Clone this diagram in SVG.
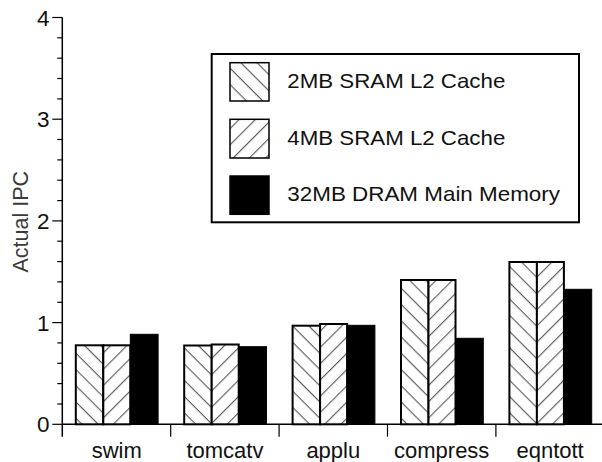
<svg xmlns="http://www.w3.org/2000/svg" width="602" height="462" viewBox="0 0 602 462">
  <style>
    .axis { stroke: #000; stroke-width: 1.5; fill: none; }
    .tick { stroke: #000; stroke-width: 1.2; }
    .lbl { font-family: "Liberation Sans", Arial, sans-serif; font-size: 21px; fill: #111; }
    .xl { font-size: 22px; }
    .num { font-size: 22.5px; }
    .ylbl { font-family: "Liberation Sans", Arial, sans-serif; font-size: 21.5px; fill: #3a3a3a; }
    .bar { stroke: #000; stroke-width: 2; }
    .dram { fill: #000; stroke: #000; stroke-width: 1; }
    .sw { stroke: #000; stroke-width: 1.5; }
  </style>
  <defs>
    <!-- "\" hatching for the 2MB SRAM series -->
    <pattern id="hatchBack" patternUnits="userSpaceOnUse" width="12" height="11.5" patternTransform="rotate(45)">
      <rect width="12" height="11.5" fill="#fff"/>
      <line x1="0" y1="0.6" x2="12" y2="0.6" stroke="#555" stroke-width="1.1"/>
    </pattern>
    <!-- "/" hatching for the 4MB SRAM series -->
    <pattern id="hatchFwd" patternUnits="userSpaceOnUse" width="12" height="11.5" patternTransform="rotate(-45)">
      <rect width="12" height="11.5" fill="#fff"/>
      <line x1="0" y1="0.6" x2="12" y2="0.6" stroke="#555" stroke-width="1.1"/>
    </pattern>
  </defs>

  <rect width="602" height="462" fill="#fff"/>

  <!-- y axis -->
  <g id="y-axis">
    <line class="axis" x1="62.3" y1="17.5" x2="62.3" y2="436.7"/>
    <g class="tick">
      <line x1="52.3" y1="17.5" x2="62.3" y2="17.5"/>
      <line x1="57.3" y1="37.8" x2="62.3" y2="37.8"/>
      <line x1="57.3" y1="58.2" x2="62.3" y2="58.2"/>
      <line x1="57.3" y1="78.5" x2="62.3" y2="78.5"/>
      <line x1="57.3" y1="98.9" x2="62.3" y2="98.9"/>
      <line x1="52.3" y1="119.2" x2="62.3" y2="119.2"/>
      <line x1="57.3" y1="139.5" x2="62.3" y2="139.5"/>
      <line x1="57.3" y1="159.9" x2="62.3" y2="159.9"/>
      <line x1="57.3" y1="180.2" x2="62.3" y2="180.2"/>
      <line x1="57.3" y1="200.6" x2="62.3" y2="200.6"/>
      <line x1="52.3" y1="220.9" x2="62.3" y2="220.9"/>
      <line x1="57.3" y1="241.2" x2="62.3" y2="241.2"/>
      <line x1="57.3" y1="261.6" x2="62.3" y2="261.6"/>
      <line x1="57.3" y1="281.9" x2="62.3" y2="281.9"/>
      <line x1="57.3" y1="302.3" x2="62.3" y2="302.3"/>
      <line x1="52.3" y1="322.6" x2="62.3" y2="322.6"/>
      <line x1="57.3" y1="342.9" x2="62.3" y2="342.9"/>
      <line x1="57.3" y1="363.3" x2="62.3" y2="363.3"/>
      <line x1="57.3" y1="383.6" x2="62.3" y2="383.6"/>
      <line x1="57.3" y1="404.0" x2="62.3" y2="404.0"/>
      <line x1="52.3" y1="424.3" x2="62.3" y2="424.3"/>
    </g>
    <g class="lbl num" text-anchor="end">
      <text x="49.5" y="25.5">4</text>
      <text x="49.5" y="127.2">3</text>
      <text x="49.5" y="228.9">2</text>
      <text x="49.5" y="330.6">1</text>
      <text x="49.5" y="432.3">0</text>
    </g>
    <text class="ylbl" transform="translate(27.5,221.7) rotate(-90)" text-anchor="middle">Actual IPC</text>
  </g>

  <!-- x axis with category ticks -->
  <g id="x-axis">
    <line class="axis" x1="62.3" y1="424.3" x2="602" y2="424.3"/>
    <g class="tick">
      <line x1="170.7" y1="424.3" x2="170.7" y2="436.7"/>
      <line x1="279.1" y1="424.3" x2="279.1" y2="436.7"/>
      <line x1="387.5" y1="424.3" x2="387.5" y2="436.7"/>
      <line x1="495.9" y1="424.3" x2="495.9" y2="436.7"/>
    </g>
    <g class="lbl xl" text-anchor="middle">
      <text x="116.8" y="458.3">swim</text>
      <text x="224.9" y="458.3">tomcatv</text>
      <text x="333.3" y="458.3">applu</text>
      <text x="441.7" y="458.3">compress</text>
      <text x="550.1" y="458.3">eqntott</text>
    </g>
  </g>

  <!-- bars: 2MB SRAM, 4MB SRAM, 32MB DRAM per benchmark -->
  <g id="bars-swim">
    <rect class="bar" x="75.8" y="345.3" width="27.5" height="79" fill="url(#hatchBack)"/>
    <rect class="bar" x="103.3" y="345.3" width="27" height="79" fill="url(#hatchFwd)"/>
    <rect class="dram" x="130.3" y="334.3" width="27.8" height="90"/>
  </g>
  <g id="bars-tomcatv">
    <rect class="bar" x="184.2" y="345.5" width="27.5" height="78.8" fill="url(#hatchBack)"/>
    <rect class="bar" x="211.7" y="344.5" width="27" height="79.8" fill="url(#hatchFwd)"/>
    <rect class="dram" x="238.7" y="346.7" width="27.8" height="77.6"/>
  </g>
  <g id="bars-applu">
    <rect class="bar" x="292.6" y="325.7" width="27.5" height="98.6" fill="url(#hatchBack)"/>
    <rect class="bar" x="320.1" y="324" width="27" height="100.3" fill="url(#hatchFwd)"/>
    <rect class="dram" x="347.1" y="325.3" width="27.8" height="99"/>
  </g>
  <g id="bars-compress">
    <rect class="bar" x="401" y="280" width="27.5" height="144.3" fill="url(#hatchBack)"/>
    <rect class="bar" x="428.5" y="280" width="27" height="144.3" fill="url(#hatchFwd)"/>
    <rect class="dram" x="455.5" y="338.3" width="27.8" height="86"/>
  </g>
  <g id="bars-eqntott">
    <rect class="bar" x="509.4" y="262" width="27.5" height="162.3" fill="url(#hatchBack)"/>
    <rect class="bar" x="536.9" y="262" width="27" height="162.3" fill="url(#hatchFwd)"/>
    <rect class="dram" x="563.9" y="289.3" width="27.8" height="135"/>
  </g>

  <!-- legend -->
  <g id="legend">
    <rect x="211.7" y="54" width="367.3" height="168.3" fill="#fff" stroke="#000" stroke-width="2"/>
    <rect class="sw" x="230" y="62.7" width="39" height="38.3" fill="url(#hatchBack)"/>
    <rect class="sw" x="230" y="119.3" width="39" height="38.7" fill="url(#hatchFwd)"/>
    <rect class="sw" x="230" y="176" width="39" height="38.3" fill="#000"/>
    <g class="lbl">
      <text x="287.3" y="88.3" textLength="218" lengthAdjust="spacingAndGlyphs">2MB SRAM L2 Cache</text>
      <text x="287.3" y="144.5" textLength="218" lengthAdjust="spacingAndGlyphs">4MB SRAM L2 Cache</text>
      <text x="287.3" y="200.5" textLength="272.7" lengthAdjust="spacingAndGlyphs">32MB DRAM Main Memory</text>
    </g>
  </g>
</svg>
